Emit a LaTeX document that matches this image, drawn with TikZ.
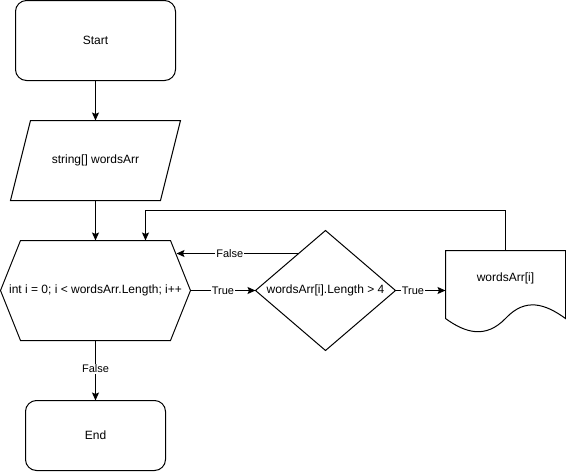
\documentclass[tikz,border=0pt]{standalone}
\usepackage{fontspec}
\setmainfont{Liberation Sans}
\usetikzlibrary{arrows.meta}
\begin{document}
\begin{tikzpicture}[x=1pt,y=-1pt,
  shapeline/.style={draw=black,line width=1pt,line join=miter},
  conn/.style={draw=black,line width=1pt,-{Stealth[length=8pt,width=7pt,inset=1.5pt]}},
  plain/.style={draw=black,line width=1pt},
  txt/.style={inner sep=0pt,font=\fontsize{12}{14}\selectfont},
  lbl/.style={fill=white,inner sep=1pt,font=\fontsize{11}{13}\selectfont}]
\useasboundingbox (0,0) rectangle (566,472);
% Start
\draw[shapeline,rounded corners=11pt] (15.5,0.5) rectangle (175.5,80.5);
\node[txt] (start) at (95.5,40.5) {Start};
% Input parallelogram
\draw[shapeline] (30.5,120.5) -- (180.5,120.5) -- (160.5,200.5) -- (10.5,200.5) -- cycle;
\node[txt] (input) at (95.5,160.5) {string[] wordsArr};
% Loop hexagon
\draw[shapeline] (20.5,240.5) -- (170.5,240.5) -- (190.5,290.5) -- (170.5,340.5) -- (20.5,340.5) -- (0.5,290.5) -- cycle;
\node[txt] (loop) at (95.5,290.5) {int i = 0; i < wordsArr.Length; i++};
% Decision diamond
\draw[shapeline] (325.5,230.5) -- (395.5,290.5) -- (325.5,350.5) -- (255.5,290.5) -- cycle;
\node[txt] (cond) at (325.5,290.5) {wordsArr[i].Length > 4};
% Document
\draw[shapeline] (445.5,318.5) -- (445.5,250.5) -- (565.5,250.5) -- (565.5,318.5)
  .. controls (545.5,304) and (525.5,297) .. (505.5,318.5)
  .. controls (485.5,339) and (465.5,333) .. (445.5,318.5);
\node[txt] (out) at (505.5,278.5) {wordsArr[i]};
% End
\draw[shapeline,rounded corners=11pt] (25.5,400.5) rectangle (165.5,470.5);
\node[txt] (end) at (95.5,435.5) {End};
% anchor coordinates
\coordinate (startB) at (95.5,80.5);
\coordinate (inputT) at (95.5,120.5);
\coordinate (inputB) at (95.5,200.5);
\coordinate (loopT) at (95.5,240.5);
\coordinate (loopT2) at (145.5,240.5);
\coordinate (loopR) at (190.5,290.5);
\coordinate (loopRU) at (176.5,253.5);
\coordinate (loopB) at (95.5,340.5);
\coordinate (condL) at (255.5,290.5);
\coordinate (condR) at (395.5,290.5);
\coordinate (condUL) at (297.5,253.5);
\coordinate (outL) at (445.5,290.5);
\coordinate (outT) at (505.5,250.5);
\coordinate (endT) at (95.5,400.5);
% connectors
\draw[conn] (startB) -- (inputT);
\draw[conn] (inputB) -- (loopT);
\draw[conn] (loopR) -- node[lbl] {True} (condL);
\draw[conn] (condUL) -- node[lbl,pos=0.56] {False} (loopRU);
\draw[conn] (condR) -- node[lbl,pos=0.35] {True} (outL);
\draw[conn] (outT) |- (145.5,210.5) -- (loopT2);
\draw[conn] (loopB) -- node[lbl,pos=0.47] {False} (endT);
\end{tikzpicture}
\end{document}
